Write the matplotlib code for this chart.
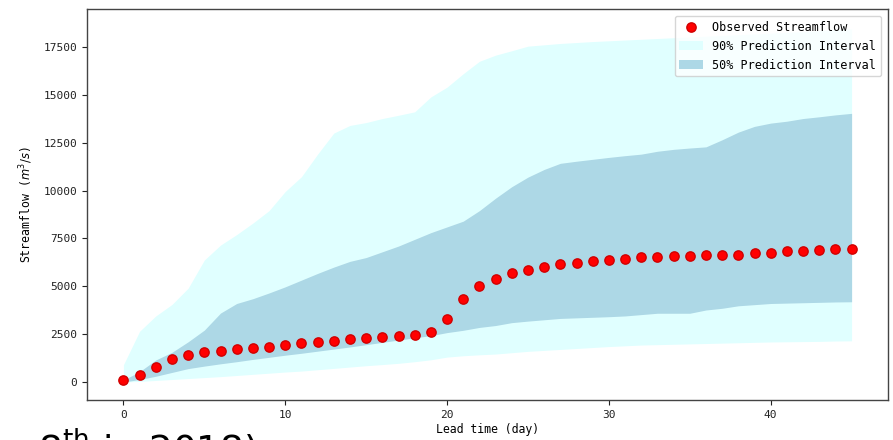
import matplotlib
matplotlib.use("Agg")
import matplotlib.pyplot as plt
from matplotlib.lines import Line2D
from matplotlib.patches import Patch
import numpy as np

# ---- data ----
lead_days = list(range(46))
observed = [80, 350, 800, 1185, 1390, 1565, 1635, 1705, 1775, 1840,
            1915, 2020, 2090, 2155, 2230, 2300, 2365, 2400, 2470, 2610,
            3300, 4330, 5020, 5390, 5670, 5845, 6000, 6140, 6210, 6300,
            6385, 6435, 6505, 6505, 6575, 6575, 6645, 6645, 6645, 6735,
            6735, 6820, 6820, 6890, 6960, 6960]
pi90_upper = [900, 2650, 3450, 4050, 4900, 6370, 7150, 7700, 8300, 8950,
              9950, 10720, 11900, 13000, 13400, 13550, 13760, 13930, 14110, 14890,
              15400, 16100, 16750, 17070, 17300, 17540, 17610, 17680, 17730, 17780,
              17820, 17860, 17900, 17940, 17980, 18020, 18060, 18100, 18140, 18180,
              18220, 18260, 18300, 18350, 18400, 18450]
pi90_lower = [0, 30, 80, 130, 180, 230, 280, 340, 400, 460,
              520, 570, 640, 710, 780, 850, 910, 975, 1060, 1160,
              1300, 1370, 1420, 1460, 1530, 1600, 1650, 1700, 1750, 1800,
              1850, 1890, 1930, 1950, 1970, 1990, 2010, 2030, 2050, 2070,
              2090, 2100, 2110, 2120, 2140, 2150]
pi50_upper = [100, 540, 1150, 1550, 2100, 2710, 3600, 4100, 4350, 4650,
              4970, 5320, 5670, 6000, 6300, 6500, 6800, 7100, 7450, 7800,
              8100, 8400, 8950, 9600, 10200, 10700, 11100, 11420, 11530, 11630,
              11730, 11820, 11900, 12050, 12150, 12220, 12280, 12650, 13050, 13350,
              13520, 13620, 13760, 13850, 13950, 14030]
pi50_lower = [0, 130, 300, 500, 700, 830, 950, 1060, 1180, 1290,
              1400, 1500, 1610, 1720, 1830, 1950, 2070, 2190, 2310, 2420,
              2580, 2700, 2850, 2950, 3100, 3180, 3250, 3320, 3350, 3380,
              3410, 3450, 3520, 3590, 3590, 3590, 3760, 3850, 3980, 4040,
              4100, 4120, 4140, 4160, 4180, 4190]
legend_labels = ["Observed Streamflow", "90% Prediction Interval", "50% Prediction Interval"]
y_ticks = [0, 2500, 5000, 7500, 10000, 12500, 15000, 17500]
x_ticks = [0, 10, 20, 30, 40]

plt.rcParams['font.family'] = ['DejaVu Sans Mono', 'DejaVu Sans']
plt.rcParams['mathtext.fontset'] = 'dejavusans'

fig = plt.figure(figsize=(8.93, 4.4), dpi=100)
ax = fig.add_axes([87/893, 40/440, (888-87)/893, (400-9)/440])

ax.fill_between(lead_days, pi90_lower, pi90_upper, color='lightcyan', linewidth=0)
ax.fill_between(lead_days, pi50_lower, pi50_upper, color='lightblue', linewidth=0)
ax.plot(lead_days, observed, 'o', color='red', markeredgecolor='#d00000',
        markersize=6.7, linestyle='none')

ax.set_xlim(-2.25, 47.25)
ax.set_ylim(-940, 19480)
ax.set_xticks(x_ticks)
ax.set_yticks(y_ticks)
ax.tick_params(labelsize=8, colors='#222222')
for s in ax.spines.values():
    s.set_color('#444444')
    s.set_linewidth(1.0)

ax.set_xlabel("Lead time (day)", fontsize=8.3, labelpad=2)
ax.set_ylabel("Streamflow ($m^3/s$)", fontsize=8.3, labelpad=6)

handles = [Line2D([], [], marker='o', color='red', markeredgecolor='#d00000',
                  linestyle='none', markersize=6.7),
           Patch(facecolor='lightcyan', edgecolor='none'),
           Patch(facecolor='lightblue', edgecolor='none')]
leg = ax.legend(handles, legend_labels, loc='upper right', fontsize=8.5,
                frameon=True, framealpha=0.8, edgecolor='#cccccc',
                handlelength=2.0, borderaxespad=0.6)

fig.text(38/893, -0.052, "8$^{\\mathrm{th}}$ in 2018)", fontsize=27,
         family='DejaVu Sans', color='black', ha='left', va='baseline')

fig.savefig("out.png", dpi=100)
